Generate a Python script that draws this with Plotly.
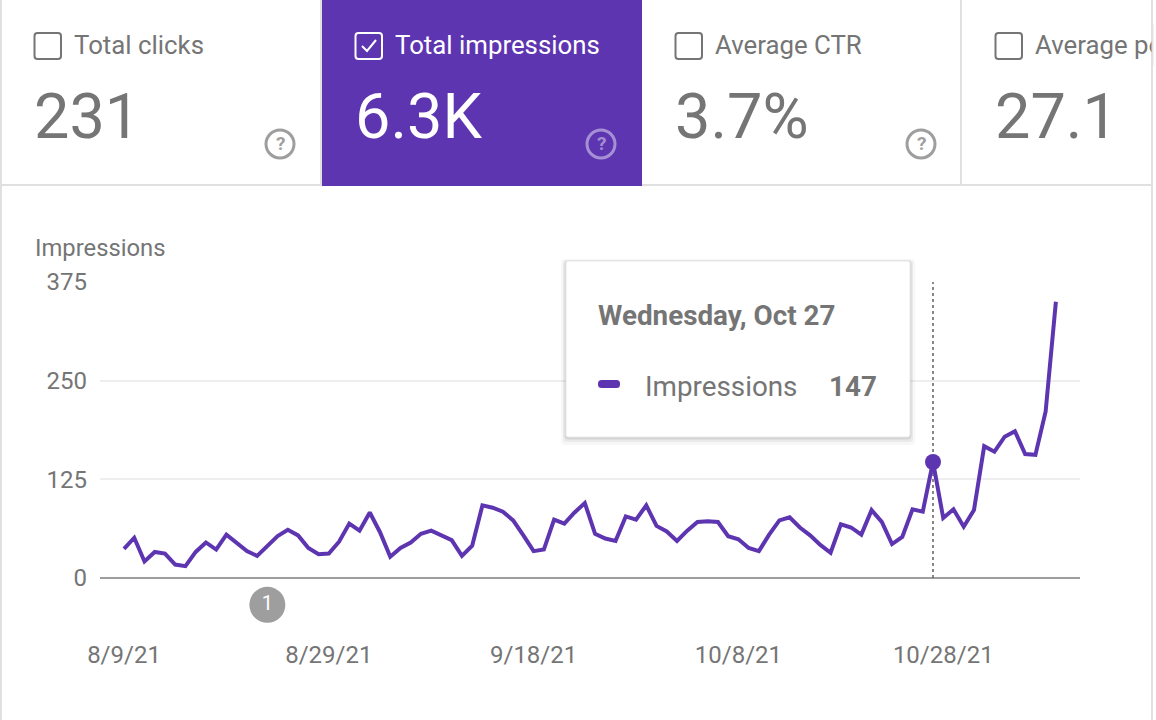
import plotly.graph_objects as go
import pandas as pd

W, H = 1156, 720
start_date = "2021-08-09"
impressions = [37, 51, 21, 33, 31, 17, 15, 33, 45, 36, 55, 44, 34, 28, 41, 53, 61, 54, 38, 30,
               31, 46, 69, 60, 83, 58, 27, 38, 45, 56, 60, 54, 48, 28, 41, 92, 89, 84, 73, 54,
               34, 36, 74, 69, 83, 95, 56, 50, 47, 78, 74, 92, 66, 59, 47, 60, 71, 72, 71, 53,
               49, 38, 34, 55, 73, 77, 64, 54, 42, 32, 68, 64, 55, 86, 71, 43, 52, 87, 84, 147,
               76, 87, 65, 86, 167, 160, 179, 186, 157, 156, 211, 350]
dates = pd.date_range(start_date, periods=len(impressions), freq="D")

x_tick_dates = ["2021-08-09", "2021-08-29", "2021-09-18", "2021-10-08", "2021-10-28"]
x_tick_labels = ["8/9/21", "8/29/21", "9/18/21", "10/8/21", "10/28/21"]
y_ticks = [0, 125, 250, 375]
y_tick_labels = ["0", "125", "250", "375"]
hover_date = "2021-10-27"
hover_value = 147
flag_date = "2021-08-23"
flag_label = "1"
tab_titles = ["Total clicks", "Total impressions", "Average CTR", "Average position"]
tab_values = ["231", "6.3K", "3.7%", "27.1"]

PURPLE = "#5e35b1"
GREY = "#757575"
BORDER = "#e0e0e0"
FONT = "Roboto"


def px(x):
    return x / W


def py(y):
    return 1 - y / H


def rrect(x0, y0, x1, y1, r):
    return (f"M{px(x0+r)},{py(y0)} L{px(x1-r)},{py(y0)} Q{px(x1)},{py(y0)} {px(x1)},{py(y0+r)} "
            f"L{px(x1)},{py(y1-r)} Q{px(x1)},{py(y1)} {px(x1-r)},{py(y1)} "
            f"L{px(x0+r)},{py(y1)} Q{px(x0)},{py(y1)} {px(x0)},{py(y1-r)} "
            f"L{px(x0)},{py(y0+r)} Q{px(x0)},{py(y0)} {px(x0+r)},{py(y0)} Z")


shapes = []
annotations = []


def rect(x0, y0, x1, y1, fill, layer="above", opacity=1):
    shapes.append(dict(type="rect", xref="paper", yref="paper", x0=px(x0), x1=px(x1), y0=py(y0), y1=py(y1),
                       fillcolor=fill, line=dict(width=0), layer=layer, opacity=opacity))


def text(x, y, s, size, color=GREY, anchor="left", bold=False):
    annotations.append(dict(xref="paper", yref="paper", x=px(x), y=py(y), text=f"<b>{s}</b>" if bold else s,
                            showarrow=False, xanchor=anchor, yanchor="middle", borderpad=0,
                            font=dict(family=FONT, size=size, color=color)))


# Tab strip
rect(0, 0, 2, 720, BORDER)
rect(1151, 0, 1153, 720, BORDER)
rect(0, 184, 1153, 186, BORDER)
rect(320, 0, 322, 185, BORDER)
rect(960, 0, 962, 185, BORDER)
rect(322, 0, 642, 186, PURPLE)

tab_x = [34, 355, 675, 995]
for i, (title, value, x0) in enumerate(zip(tab_titles, tab_values, tab_x)):
    on = i == 1
    col = "#ffffff" if on else GREY
    shapes.append(dict(type="path", xref="paper", yref="paper", path=rrect(x0 + 0.5, 33, x0 + 27, 59, 3),
                       line=dict(color=col, width=2), layer="above"))
    if on:
        shapes.append(dict(type="path", xref="paper", yref="paper",
                           path=f"M{px(x0+7)},{py(46)} L{px(x0+12)},{py(51)} L{px(x0+21)},{py(40)}",
                           line=dict(color=col, width=2), layer="above"))
    text(x0 + 38.5, 45, title, 25.8, col)
    text(x0 - 1, 117, value, 63, col)
    if i < 3:
        cx = x0 + 246
        qc = "rgba(255,255,255,0.45)" if on else "#9e9e9e"
        shapes.append(dict(type="circle", xref="paper", yref="paper", x0=px(cx - 14), x1=px(cx + 14),
                           y0=py(130), y1=py(158), line=dict(color=qc, width=3), layer="above"))
        text(cx, 144, "?", 19, qc, anchor="center", bold=True)

# Right-hand clip of the fourth tab title
annotations.append(dict(xref="paper", yref="paper", x=px(1151), y=py(45), text=" ", showarrow=False,
                        xanchor="left", yanchor="middle", width=2, height=40, bgcolor=BORDER, borderpad=0))
annotations.append(dict(xref="paper", yref="paper", x=px(1153), y=py(45), text=" ", showarrow=False,
                        xanchor="left", yanchor="middle", width=60, height=40, bgcolor="#ffffff", borderpad=0))

text(34, 248, "Impressions", 23.8)

# Tooltip
for grow, dy, op in [(5, 3, 0.03), (3, 2, 0.05), (1.5, 1, 0.09)]:
    shapes.append(dict(type="path", xref="paper", yref="paper",
                       path=rrect(566 - grow, 261 - grow + dy, 910 + grow, 437 + grow + dy, 4),
                       fillcolor="#000000", opacity=op, line=dict(width=0), layer="above"))
shapes.append(dict(type="path", xref="paper", yref="paper", path=rrect(566, 261, 910, 437, 2),
                   fillcolor="#ffffff", line=dict(color="#e8e8e8", width=1), layer="above"))
shapes.append(dict(type="path", xref="paper", yref="paper", path=rrect(598, 380, 620, 388, 3.5),
                   fillcolor=PURPLE, line=dict(width=0), layer="above"))
text(597, 315, "Wednesday, Oct 27", 27.8, bold=True)
text(644, 386.5, "Impressions", 27.8)
text(878, 386.5, str(hover_value), 27.8, anchor="right", bold=True)

fig = go.Figure()
fig.add_trace(go.Scatter(x=[hover_date, hover_date], y=[0, 375], mode="lines",
                         line=dict(color="#616161", width=1.5, dash="dot"), hoverinfo="skip"))
fig.add_trace(go.Scatter(x=dates, y=impressions, mode="lines", line=dict(color=PURPLE, width=4),
                         name="Impressions"))
fig.add_trace(go.Scatter(x=[hover_date], y=[hover_value], mode="markers",
                         marker=dict(color=PURPLE, size=16), hoverinfo="skip"))
fig.add_trace(go.Scatter(x=[flag_date], y=[-34], mode="markers+text", text=[flag_label],
                         textposition="middle center", textfont=dict(family=FONT, size=20, color="#ffffff"),
                         marker=dict(color="#9e9e9e", size=36), hoverinfo="skip"))

px_per_day = (933 - 124) / 79
y_px_per_unit = (578 - 282) / 375
y_floor = -60
plot_bottom = 578 - y_floor * y_px_per_unit
x_start = pd.Timestamp(start_date) + pd.Timedelta(days=(100 - 124) / px_per_day)
x_end = pd.Timestamp(start_date) + pd.Timedelta(days=(1080 - 124) / px_per_day)

fig.update_layout(
    width=W, height=H, margin=dict(l=0, r=0, t=0, b=0, autoexpand=False), showlegend=False,
    paper_bgcolor="#ffffff", plot_bgcolor="#ffffff",
    font=dict(family=FONT, color=GREY),
    shapes=shapes, annotations=annotations,
    xaxis=dict(domain=[px(100), px(1080)], range=[x_start, x_end], type="date",
               tickvals=x_tick_dates, ticktext=x_tick_labels, showgrid=False, zeroline=False,
               showline=False, ticks="", ticklabelstandoff=13, tickfont=dict(size=24, color=GREY, family=FONT)),
    yaxis=dict(domain=[py(plot_bottom), py(282)], range=[y_floor, 375], tickvals=y_ticks, ticktext=y_tick_labels,
               gridcolor="#eeeeee", gridwidth=2, zeroline=True, zerolinecolor="#9e9e9e", zerolinewidth=2,
               ticks="", ticklabelstandoff=12, tickfont=dict(size=24, color=GREY, family=FONT)),
)
fig.write_html("out.html", config=dict(displayModeBar=False), post_script="document.body.style.margin='0';")
